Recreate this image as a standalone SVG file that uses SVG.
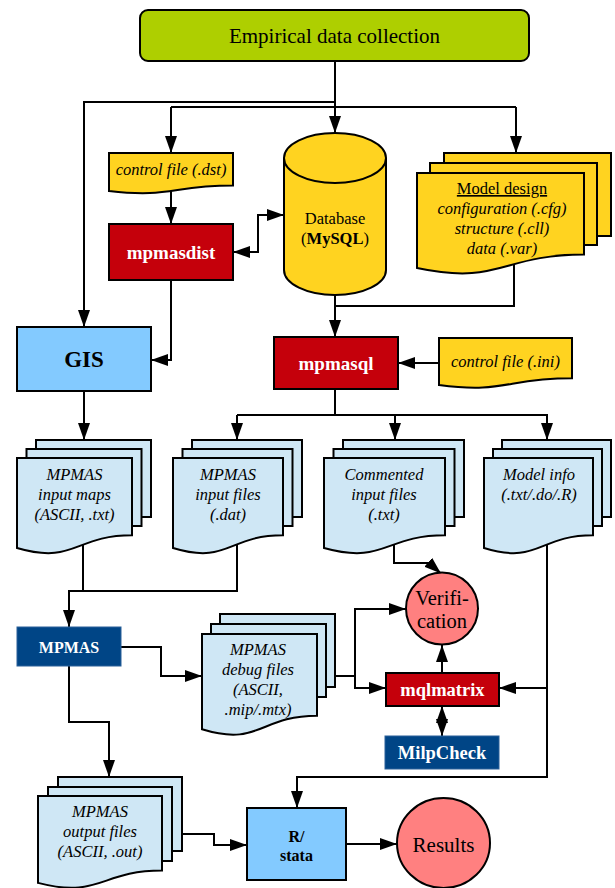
<svg xmlns="http://www.w3.org/2000/svg" width="615" height="888" viewBox="0 0 615 888">
<defs>
<marker id="ah" viewBox="0 0 17 12" markerWidth="17" markerHeight="12" refX="17" refY="6" orient="auto-start-reverse" markerUnits="userSpaceOnUse"><path d="M0,0 L17,6 L0,12 Z" fill="#000"/></marker>
<style>
.c{fill:none;stroke:#000;stroke-width:2}
.a{marker-end:url(#ah)}
.b{marker-start:url(#ah);marker-end:url(#ah)}
.s{stroke:#000;stroke-width:2}
.yl{fill:#ffd320}
.red{fill:#c5000b}
.lb{fill:#83caff}
.doc{fill:#cfe7f5}
.dk{fill:#004586;stroke:#2a6099;stroke-width:1}
.pk{fill:#ff8080}
text{font-family:"Liberation Serif","Times New Roman",serif;text-anchor:middle;fill:#000}
.it{font-style:italic;font-size:16.5px}
.w{fill:#fff;font-weight:bold}
</style>
</defs>
<rect width="615" height="888" fill="#fff"/>
<g id="connectors">
<path class="c a" d="M335,61 V133"/>
<path class="c a" d="M335,102 H84 V327"/>
<path class="c" d="M171,107 H516"/>
<path class="c a" d="M171,107 V153"/>
<path class="c a" d="M516,107 V153"/>
<path class="c a" d="M171,189 V224"/>
<path class="c b" d="M233,252 H258 V215 H284"/>
<path class="c a" d="M171,280 V360 H151"/>
<path class="c" d="M514,262 V306 H335"/>
<path class="c a" d="M335,293 V337"/>
<path class="c a" d="M439,363 H398"/>
<path class="c" d="M335,389 V415"/>
<path class="c a" d="M237,415 V440"/>
<path class="c a" d="M395,415 V440"/>
<path class="c a" d="M237,415 H547 V440"/>
<path class="c a" d="M84,391 V440"/>
<path class="c a" d="M83,540 V591 H69 V627"/>
<path class="c" d="M237,540 V591 H83"/>
<path class="c a" d="M121,647 H161 V676 H202"/>
<path class="c a" d="M69,666 V722 H109 V777"/>
<path class="c" d="M335,676 H355"/>
<path class="c b" d="M406,609 H355 V688 H386"/>
<path class="c a" d="M394,545 V563 H429 L441,573.5"/>
<path class="c a" d="M442,673 V645"/>
<path class="c b" d="M442,706 V736"/>
<path class="c a" d="M547,540 V777 H297 V808"/>
<path class="c a" d="M547,688 H499"/>
<path class="c a" d="M182,834 H214 V845 H247"/>
<path class="c a" d="M346,844 H397"/>
</g>
<g id="empirical">
<rect x="140" y="10" width="389" height="51" rx="8" class="s" fill="#aecf00"/>
<text x="334.5" y="43" font-size="21">Empirical data collection</text>
</g>
<g id="database">
<path class="s yl" d="M284,158 A51,25 0 0 1 386,158 V270 A51,25 0 0 1 284,270 Z"/>
<path class="s" fill="none" d="M284,158 A51,25 0 0 0 386,158"/>
<text x="335" y="224" font-size="16.5">Database</text>
<text x="335" y="244" font-size="16.5">(<tspan font-weight="bold">MySQL</tspan>)</text>
</g>
<g id="control-dst">
<path class="s yl" d="M109,153 H233 V185.6 C171,185.6 171,198.1 109,191 Z"/>
<text class="it" x="171" y="175">control file (.dst)</text>
</g>
<g id="mpmasdist">
<rect x="109" y="224" width="124" height="56" class="s red"/>
<text class="w" x="171" y="258.5" font-size="19">mpmasdist</text>
</g>
<g id="model-design">
<rect x="444" y="153" width="167" height="83" class="s yl"/>
<rect x="430" y="163" width="167" height="82" class="s yl"/>
<path class="s yl" d="M417,173 H584 V254.6 C500.5,254.6 500.5,285.6 417,268 Z"/>
<text x="502" y="194" font-size="16.5" text-decoration="underline">Model design</text>
<text class="it" x="502" y="214">configuration (.cfg)</text>
<text class="it" x="502" y="234">structure (.cll)</text>
<text class="it" x="502" y="254">data (.var)</text>
</g>
<g id="gis">
<rect x="17" y="327" width="134" height="64" class="s lb"/>
<text x="84" y="367" font-size="23" font-weight="bold">GIS</text>
</g>
<g id="mpmasql">
<rect x="274" y="337" width="124" height="52" class="s red"/>
<text class="w" x="336" y="370" font-size="19">mpmasql</text>
</g>
<g id="control-ini">
<path class="s yl" d="M439,338 H572 V378.3 C505.5,378.3 505.5,393.7 439,385 Z"/>
<text class="it" x="505.5" y="367">control file (.ini)</text>
</g>
<g id="input-maps">
<rect x="36" y="440" width="115" height="77" class="s doc"/>
<rect x="26.5" y="449" width="115" height="77" class="s doc"/>
<path class="s doc" d="M17,458 H132 V535.3 C74.5,535.3 74.5,564.8 17,548 Z"/>
<text class="it" x="74.5" y="480">MPMAS</text>
<text class="it" x="74.5" y="500">input maps</text>
<text class="it" x="74.5" y="520">(ASCII, .txt)</text>
</g>
<g id="input-files">
<rect x="192" y="440" width="110" height="77" class="s doc"/>
<rect x="182.5" y="449" width="110" height="77" class="s doc"/>
<path class="s doc" d="M173,458 H283 V535.3 C228,535.3 228,564.8 173,548 Z"/>
<text class="it" x="228" y="480">MPMAS</text>
<text class="it" x="228" y="500">input files</text>
<text class="it" x="228" y="520">(.dat)</text>
</g>
<g id="commented-files">
<rect x="343" y="440" width="121" height="77" class="s doc"/>
<rect x="333.5" y="449" width="121" height="77" class="s doc"/>
<path class="s doc" d="M324,458 H445 V535.3 C384.5,535.3 384.5,564.8 324,548 Z"/>
<text class="it" x="384" y="480">Commented</text>
<text class="it" x="384" y="500">input files</text>
<text class="it" x="384" y="520">(.txt)</text>
</g>
<g id="model-info">
<rect x="502" y="440" width="109" height="77" class="s doc"/>
<rect x="493" y="449" width="109" height="77" class="s doc"/>
<path class="s doc" d="M484,458 H593 V535.3 C538.5,535.3 538.5,564.8 484,548 Z"/>
<text class="it" x="539" y="480">Model info</text>
<text class="it" x="539" y="500">(.txt/.do/.R)</text>
</g>
<g id="mpmas">
<rect x="17" y="627" width="104" height="39" class="dk"/>
<text class="w" x="69" y="652.5" font-size="16">MPMAS</text>
</g>
<g id="debug-files">
<rect x="220" y="614" width="115" height="73" class="s doc"/>
<rect x="211" y="624" width="115" height="73" class="s doc"/>
<path class="s doc" d="M202,634 H317 V715.8 C259.5,715.8 259.5,747 202,729.3 Z"/>
<text class="it" x="258" y="655">MPMAS</text>
<text class="it" x="258" y="675">debug files</text>
<text class="it" x="258" y="695">(ASCII,</text>
<text class="it" x="258" y="715">.mip/.mtx)</text>
</g>
<g id="verification">
<circle cx="442" cy="608.5" r="36" class="s pk"/>
<text x="442" y="605" font-size="20.5">Verifi-</text>
<text x="442" y="628" font-size="20.5">cation</text>
</g>
<g id="mqlmatrix">
<rect x="386" y="673" width="113" height="33" class="s red"/>
<text class="w" x="442.5" y="696" font-size="18.5">mqlmatrix</text>
</g>
<g id="milpcheck">
<rect x="385" y="736" width="114" height="33" class="dk"/>
<text class="w" x="442" y="759" font-size="18.5">MilpCheck</text>
</g>
<g id="output-files">
<rect x="58" y="777" width="124" height="74" class="s doc"/>
<rect x="48" y="787" width="124" height="74" class="s doc"/>
<path class="s doc" d="M38,796 H162 V870.6 C100,870.6 100,899 38,882.9 Z"/>
<text class="it" x="100" y="817">MPMAS</text>
<text class="it" x="100" y="837">output files</text>
<text class="it" x="100" y="857">(ASCII, .out)</text>
</g>
<g id="r-stata">
<rect x="247" y="808" width="99" height="72" class="s lb"/>
<text x="296.5" y="842" font-size="16" font-weight="bold">R/</text>
<text x="296.5" y="861" font-size="16" font-weight="bold">stata</text>
</g>
<g id="results">
<ellipse cx="443.5" cy="843" rx="46.5" ry="45" class="s pk"/>
<text x="443.5" y="852" font-size="21">Results</text>
</g>
</svg>
